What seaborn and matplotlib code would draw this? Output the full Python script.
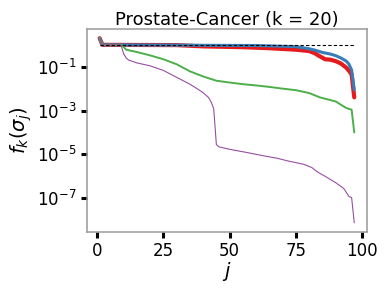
import matplotlib
matplotlib.use("Agg")
import matplotlib.pyplot as plt
import matplotlib.ticker as mticker
import seaborn as sns

# --- data ---
j_red = [1, 2, 30, 40, 55, 65, 75, 80, 82, 84, 86, 88, 90, 92, 94, 95, 96, 97]
f_red = [2.0, 1.0, 0.97, 0.85, 0.78, 0.70, 0.60, 0.52, 0.42, 0.30, 0.22, 0.21,
         0.18, 0.14, 0.09, 0.065, 0.045, 0.004]

j_blue = [1, 2, 60, 75, 80, 82, 85, 88, 90, 92, 94, 95, 96, 97]
f_blue = [2.0, 1.0, 0.93, 0.83, 0.66, 0.58, 0.45, 0.38, 0.32, 0.25, 0.18, 0.13,
          0.071, 0.0089]

j_green = [1, 2, 9, 10, 11, 15, 20, 25, 30, 35, 40, 45, 50, 55, 60, 65, 70, 75,
           80, 84, 90, 94, 96, 97]
f_green = [2.0, 1.0, 1.0, 0.80, 0.60, 0.47, 0.33, 0.22, 0.13, 0.062, 0.036, 0.023,
           0.019, 0.016, 0.014, 0.012, 0.010, 0.0085, 0.0063, 0.0040, 0.0026,
           0.0013, 0.0011, 0.0001]

j_purple = [1, 2, 9, 10, 11, 12, 15, 20, 25, 30, 35, 38, 40, 42, 43, 44, 45, 46,
            50, 56, 62, 68, 72, 78, 81, 83, 86, 90, 93, 95, 96, 97]
f_purple = [2.0, 1.0, 1.0, 0.40, 0.25, 0.20, 0.15, 0.11, 0.068, 0.033, 0.016,
            0.0095, 0.0065, 0.0040, 0.0025, 0.0012, 2.8e-5, 2.2e-5, 1.7e-5,
            1.25e-5, 9e-6, 6.6e-6, 5.0e-6, 3.5e-6, 2.5e-6, 1.6e-6, 1.0e-6,
            5.1e-7, 2.8e-7, 1.2e-7, 1.07e-7, 7.5e-9]

j_ref = [1, 97]
f_ref = [1.0, 1.0]

title = "Prostate-Cancer (k = 20)"
x_ticks = [0, 25, 50, 75, 100]
y_ticks = [1e-7, 1e-5, 1e-3, 1e-1]

# --- style ---
sns.set_style("ticks")
plt.rcParams.update({
    "axes.edgecolor": "0.6",
    "axes.linewidth": 1.1,
    "axes.labelcolor": "black",
    "text.color": "black",
    "xtick.color": "black",
    "ytick.color": "black",
    "xtick.major.width": 2.2,
    "ytick.major.width": 2.2,
    "xtick.major.size": 4,
    "ytick.major.size": 4,
    "xtick.direction": "out",
    "ytick.direction": "out",
})
plt.rcParams["font.family"] = ["DejaVu Sans"]

pal = sns.color_palette("Set1")

fig, ax = plt.subplots(figsize=(3.9, 2.93), dpi=100)
fig.subplots_adjust(left=0.223, right=0.941, top=0.901, bottom=0.208)

sns.lineplot(x=j_red, y=f_red, ax=ax, color=pal[0], linewidth=3.0)
sns.lineplot(x=j_blue, y=f_blue, ax=ax, color=pal[1], linewidth=2.2)
sns.lineplot(x=j_green, y=f_green, ax=ax, color=pal[2], linewidth=1.4)
sns.lineplot(x=j_purple, y=f_purple, ax=ax, color=pal[3], linewidth=0.8)
sns.lineplot(x=j_ref, y=f_ref, ax=ax, color="black", linewidth=0.8,
             linestyle=(0, (3, 2)))

ax.set_yscale("log")
ax.set_yticks(y_ticks)
ax.yaxis.set_minor_locator(mticker.NullLocator())
ax.set_xticks(x_ticks)
ax.tick_params(labelsize=12)

ax.set_title(title, fontsize=13, pad=3, color="black")
ax.set_xlabel("$j$", fontsize=14, labelpad=0)
ax.set_ylabel(r"$f_k(\sigma_j)$", fontsize=14, labelpad=2)

fig.savefig("out.png", dpi=100)
